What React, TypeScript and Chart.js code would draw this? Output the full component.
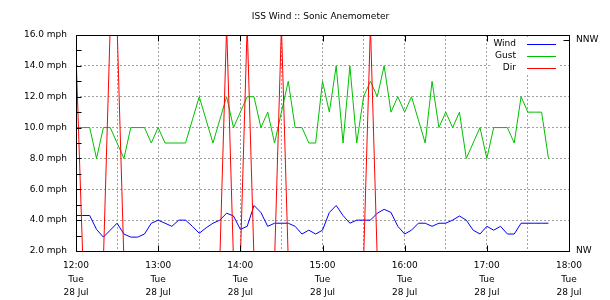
import { useEffect, useRef } from "react";
import { Chart, registerables } from "chart.js";

Chart.register(...registerables);

// 5-minute samples, Tuesday 28 July
const sampleTimes = [
  "12:00", "12:05", "12:10", "12:15", "12:20", "12:25", "12:30", "12:35", "12:40", "12:45", "12:50", "12:55",
  "13:00", "13:05", "13:10", "13:15", "13:20", "13:25", "13:30", "13:35", "13:40", "13:45", "13:50", "13:55",
  "14:00", "14:05", "14:10", "14:15", "14:20", "14:25", "14:30", "14:35", "14:40", "14:45", "14:50", "14:55",
  "15:00", "15:05", "15:10", "15:15", "15:20", "15:25", "15:30", "15:35", "15:40", "15:45", "15:50", "15:55",
  "16:00", "16:05", "16:10", "16:15", "16:20", "16:25", "16:30", "16:35", "16:40", "16:45", "16:50", "16:55",
  "17:00", "17:05", "17:10", "17:15", "17:20", "17:25", "17:30", "17:35", "17:40", "17:45",
];

// average wind speed, mph
const windMph = [
  4.3, 4.3, 4.3, 3.4, 2.9, 3.35, 3.8, 3.1, 2.9, 2.9, 3.1, 3.8,
  4.0, 3.8, 3.6, 4.0, 4.0, 3.6, 3.15, 3.5, 3.8, 4.0, 4.45, 4.27,
  3.4, 3.6, 4.95, 4.5, 3.6, 3.8, 3.8, 3.8, 3.6, 3.1, 3.35, 3.1,
  3.35, 4.5, 4.95, 4.3, 3.8, 4.0, 4.0, 4.0, 4.45, 4.7, 4.5, 3.6,
  3.1, 3.35, 3.8, 3.8, 3.6, 3.8, 3.8, 4.0, 4.27, 4.0, 3.35, 3.1,
  3.6, 3.35, 3.6, 3.1, 3.1, 3.8, 3.8, 3.8, 3.8, 3.8,
];

// gust speed, mph
const gustMph = [
  10, 10, 10, 8, 10, 10, 9, 8, 10, 10, 10, 9,
  10, 9, 9, 9, 9, 10.5, 12, 10.5, 9, 10.5, 12, 10,
  11, 12, 12, 10, 11, 9, 11, 13, 10, 10, 9, 9,
  13, 11, 14, 9, 14, 9, 12, 13, 12, 14, 11, 12,
  11, 12, 10.5, 9, 13, 10, 11, 10, 11, 8, 9, 10,
  8, 10, 10, 10, 9, 12, 11, 11, 11, 8,
];

// wind direction, degrees
const dirDeg = [
  336, 314, 314, 314, 314, 339, 339, 314, 314, 314, 314, 314,
  314, 314, 314, 314, 314, 314, 314, 314, 314, 314, 339, 314,
  314, 339, 314, 314, 314, 314, 339, 314, 314, 314, 314, 314,
  314, 314, 314, 314, 314, 314, 314, 339, 314, 314, 314, 314,
  314, 314, 314, 314, 314, 314, 314, 314, 314, 314, 314, 314,
  314, 314, 314, 314, 314, 314, 314, 314, 314, 314,
];

const hourLabels = ["12:00", "13:00", "14:00", "15:00", "16:00", "17:00", "18:00"];
const dayLabel = "Tue";
const dateLabel = "28 Jul";
const compassDegrees = [315, 337.5];
const compassLabels = ["NW", "NNW"];
const seriesNames = ["Wind", "Gust", "Dir"];
const seriesColors = ["#0000ff", "#00c000", "#ff0000"];
const chartTitle = "ISS Wind :: Sonic Anemometer";

const FONT = '"DejaVu Sans", sans-serif';

// minutes after 12:00
const toMinutes = (s: string) => {
  const [h, m] = s.split(":").map(Number);
  return (h - 12) * 60 + m;
};

const frame = {
  id: "frame",
  beforeDatasetsDraw(chart: any) {
    const { ctx, chartArea: a } = chart;
    // opaque key box over the grid
    ctx.save();
    ctx.fillStyle = "#ffffff";
    ctx.fillRect(a.right - 79, a.top + 3, 70, 35);
    ctx.restore();
  },
  afterDatasetsDraw(chart: any) {
    const { ctx, chartArea: a, scales } = chart;
    const L = Math.round(a.left) + 0.5;
    const R = Math.round(a.right) + 0.5;
    const T = Math.round(a.top) + 0.5;
    const B = Math.round(a.bottom) + 0.5;
    ctx.save();
    ctx.strokeStyle = "#000000";
    ctx.lineWidth = 1;
    ctx.setLineDash([]);
    ctx.beginPath();
    ctx.rect(L, T, R - L, B - T);
    // left axis ticks every 1 mph
    for (let v = 2; v <= 16; v += 1) {
      const y = Math.round(scales.y.getPixelForValue(v)) + 0.5;
      ctx.moveTo(L, y);
      ctx.lineTo(L + 5, y);
    }
    // hour ticks on bottom and top edges
    hourLabels.forEach((lab) => {
      const x = Math.round(scales.x.getPixelForValue(toMinutes(lab))) + 0.5;
      ctx.moveTo(x, B);
      ctx.lineTo(x, B - 6);
      ctx.moveTo(x, T);
      ctx.lineTo(x, T + 6);
    });
    // compass ticks on the right edge
    compassDegrees.forEach((d) => {
      const y = Math.round(scales.y2.getPixelForValue(d)) + 0.5;
      ctx.moveTo(R, y);
      ctx.lineTo(R - 6, y);
    });
    ctx.stroke();

    // key
    ctx.font = `9px ${FONT}`;
    ctx.textBaseline = "middle";
    ctx.textAlign = "right";
    seriesNames.forEach((name, i) => {
      const y = Math.round(a.top) + 9 + i * 12;
      ctx.fillStyle = "#000000";
      ctx.fillText(name, a.right - 53, y);
      ctx.strokeStyle = seriesColors[i];
      ctx.beginPath();
      ctx.moveTo(a.right - 42, y + 0.5);
      ctx.lineTo(a.right - 13, y + 0.5);
      ctx.stroke();
    });

    // title
    ctx.fillStyle = "#000000";
    ctx.textAlign = "center";
    ctx.fillText(chartTitle, (a.left + a.right) / 2 - 2, 17);
    ctx.restore();
  },
};

export default function App() {
  const canvasRef = useRef<HTMLCanvasElement | null>(null);

  useEffect(() => {
    const canvas = canvasRef.current;
    if (!canvas) return;
    const xs = sampleTimes.map(toMinutes);
    const pts = (vals: number[]) => vals.map((v, i) => ({ x: xs[i], y: v }));

    const tickFont = { family: FONT, size: 9, lineHeight: 1.5 };
    const gridCommon = {
      color: "#a0a0a0",
      lineWidth: 1,
      drawTicks: false,
    };

    const chart = new Chart(canvas, {
      type: "line",
      data: {
        datasets: [
          {
            label: seriesNames[2],
            data: pts(dirDeg),
            yAxisID: "y2",
            borderColor: seriesColors[2],
            borderWidth: 1,
            pointRadius: 0,
            tension: 0,
            clip: 0,
            order: 0,
          },
          {
            label: seriesNames[0],
            data: pts(windMph),
            yAxisID: "y",
            borderColor: seriesColors[0],
            borderWidth: 1,
            pointRadius: 0,
            tension: 0,
            clip: 0,
            order: 1,
          },
          {
            label: seriesNames[1],
            data: pts(gustMph),
            yAxisID: "y",
            borderColor: seriesColors[1],
            borderWidth: 1,
            pointRadius: 0,
            tension: 0,
            clip: 0,
            order: 2,
          },
        ],
      },
      options: {
        animation: false,
        responsive: false,
        devicePixelRatio: 1,
        layout: { padding: { top: 35, left: 0, right: 0, bottom: 0 } },
        plugins: {
          legend: { display: false },
          tooltip: { enabled: false },
          title: { display: false },
        },
        scales: {
          x: {
            type: "linear",
            position: "bottom",
            min: 0,
            max: 360,
            grid: gridCommon,
            border: { display: false, dash: [2, 2] },
            afterFit: (s: any) => {
              s.height = 49;
            },
            ticks: {
              stepSize: 30,
              autoSkip: false,
              maxRotation: 0,
              padding: 8,
              color: "#000000",
              font: tickFont,
              callback: (v: any) => {
                const n = Number(v);
                if (n % 60 !== 0) return "";
                return [hourLabels[n / 60], dayLabel, dateLabel];
              },
            },
          },
          y: {
            type: "linear",
            position: "left",
            min: 2,
            max: 16,
            grid: gridCommon,
            border: { display: false, dash: [2, 2] },
            afterFit: (s: any) => {
              s.width = 76;
            },
            ticks: {
              stepSize: 2,
              padding: 9,
              color: "#000000",
              font: tickFont,
              callback: (v: any) => Number(v).toFixed(1) + " mph",
            },
          },
          y2: {
            type: "linear",
            position: "right",
            min: 315,
            max: 338,
            grid: { display: false, drawTicks: false },
            border: { display: false },
            afterFit: (s: any) => {
              s.width = 41;
            },
            afterBuildTicks: (s: any) => {
              s.ticks = compassDegrees.map((value) => ({ value }));
            },
            ticks: {
              padding: 7,
              color: "#000000",
              font: tickFont,
              callback: (v: any) => compassLabels[compassDegrees.indexOf(Number(v))],
            },
          },
        },
      },
      plugins: [frame],
    } as any);

    return () => chart.destroy();
  }, []);

  return (
    <div
      style={{
        position: "fixed",
        left: 0,
        top: 0,
        width: 610,
        height: 300,
        background: "#ffffff",
      }}
    >
      <canvas ref={canvasRef} width={610} height={300} style={{ display: "block" }} />
    </div>
  );
}
